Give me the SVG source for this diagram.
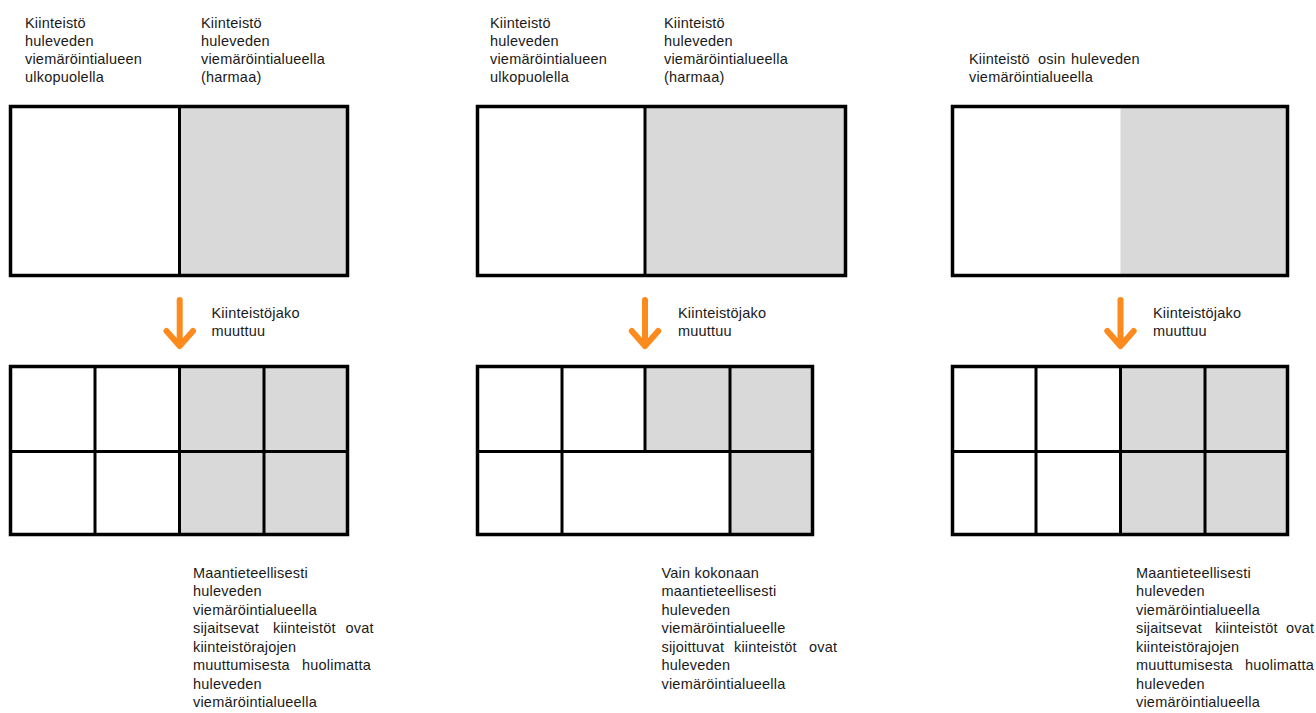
<svg xmlns="http://www.w3.org/2000/svg" width="1316" height="713" viewBox="0 0 1316 713">
<style>
text{font-family:"Liberation Sans",Arial,sans-serif;font-size:14.5px;letter-spacing:0.2px;fill:#1a1a1a}
.g{fill:#d9d9d9}
.ln{stroke:#000;stroke-width:3;fill:none}
.ob{stroke:#000;stroke-width:3.5;fill:none}
.arr{stroke:#fd8a1c;stroke-width:6;fill:none;stroke-linecap:round;stroke-linejoin:round}
</style>
<rect width="1316" height="713" fill="#fff"/>

<g id="panel1-top">
<text x="25" y="28">Kiinteistö</text>
<text x="25" y="46">huleveden</text>
<text x="25" y="64">viemäröintialueen</text>
<text x="25" y="82">ulkopuolella</text>
<text x="201" y="28">Kiinteistö</text>
<text x="201" y="46">huleveden</text>
<text x="201" y="64">viemäröintialueella</text>
<text x="201" y="82">(harmaa)</text>
<rect class="g" x="179.5" y="105" width="169.5" height="172"/>
<line class="ln" x1="179.5" y1="105" x2="179.5" y2="277"/>
<rect class="ob" x="10.5" y="106.5" width="337" height="169"/>
</g>

<g id="panel1-bottom">
<rect class="g" x="179.5" y="365" width="169.5" height="171"/>
<line class="ln" x1="95" y1="365" x2="95" y2="536"/>
<line class="ln" x1="179.5" y1="365" x2="179.5" y2="536"/>
<line class="ln" x1="264" y1="365" x2="264" y2="536"/>
<line class="ln" x1="9" y1="451.5" x2="349" y2="451.5"/>
<rect class="ob" x="10.5" y="366.5" width="337" height="168"/>
<text x="193" y="577.5">Maantieteellisesti</text>
<text x="193" y="596">huleveden</text>
<text x="193" y="614.5">viemäröintialueella</text>
<text y="633"><tspan x="193">sijaitsevat</tspan><tspan x="273">kiinteistöt</tspan><tspan x="345.5">ovat</tspan></text>
<text x="193" y="651.5">kiinteistörajojen</text>
<text y="670"><tspan x="193">muuttumisesta</tspan><tspan x="302">huolimatta</tspan></text>
<text x="193" y="688.5">huleveden</text>
<text x="193" y="707">viemäröintialueella</text>
</g>

<g id="panel2-top">
<text x="490" y="28">Kiinteistö</text>
<text x="490" y="46">huleveden</text>
<text x="490" y="64">viemäröintialueen</text>
<text x="490" y="82">ulkopuolella</text>
<text x="664" y="28">Kiinteistö</text>
<text x="664" y="46">huleveden</text>
<text x="664" y="64">viemäröintialueella</text>
<text x="664" y="82">(harmaa)</text>
<rect class="g" x="645" y="105" width="202" height="172"/>
<line class="ln" x1="645" y1="105" x2="645" y2="277"/>
<rect class="ob" x="477.5" y="106.5" width="368" height="169"/>
</g>

<g id="panel2-bottom">
<rect class="g" x="645" y="365" width="169" height="86.5"/>
<rect class="g" x="730" y="451.5" width="84" height="84.5"/>
<line class="ln" x1="562" y1="365" x2="562" y2="536"/>
<line class="ln" x1="645" y1="365" x2="645" y2="451.5"/>
<line class="ln" x1="730" y1="365" x2="730" y2="536"/>
<line class="ln" x1="476" y1="451.5" x2="814" y2="451.5"/>
<rect class="ob" x="477.5" y="366.5" width="335" height="168"/>
<text x="661.5" y="577.5">Vain kokonaan</text>
<text x="661.5" y="596">maantieteellisesti</text>
<text x="661.5" y="614.5">huleveden</text>
<text x="661.5" y="633">viemäröintialueelle</text>
<text y="651.5"><tspan x="661.5">sijoittuvat</tspan><tspan x="734">kiinteistöt</tspan><tspan x="809">ovat</tspan></text>
<text x="661.5" y="670">huleveden</text>
<text x="661.5" y="688.5">viemäröintialueella</text>
</g>

<g id="panel3-top">
<text y="64"><tspan x="969">Kiinteistö</tspan><tspan x="1038">osin</tspan><tspan x="1071">huleveden</tspan></text>
<text x="969" y="82">viemäröintialueella</text>
<rect class="g" x="1120.5" y="105" width="168.5" height="172"/>
<rect class="ob" x="952.5" y="106.5" width="335" height="169"/>
</g>

<g id="panel3-bottom">
<rect class="g" x="1120.5" y="365" width="168.5" height="171"/>
<line class="ln" x1="1036" y1="365" x2="1036" y2="536"/>
<line class="ln" x1="1120.5" y1="365" x2="1120.5" y2="536"/>
<line class="ln" x1="1205" y1="365" x2="1205" y2="536"/>
<line class="ln" x1="951" y1="451.5" x2="1289" y2="451.5"/>
<rect class="ob" x="952.5" y="366.5" width="335" height="168"/>
<text x="1136" y="577.5">Maantieteellisesti</text>
<text x="1136" y="596">huleveden</text>
<text x="1136" y="614.5">viemäröintialueella</text>
<text y="633"><tspan x="1136">sijaitsevat</tspan><tspan x="1215">kiinteistöt</tspan><tspan x="1286">ovat</tspan></text>
<text x="1136" y="651.5">kiinteistörajojen</text>
<text y="670"><tspan x="1136">muuttumisesta</tspan><tspan x="1245">huolimatta</tspan></text>
<text x="1136" y="688.5">huleveden</text>
<text x="1136" y="707">viemäröintialueella</text>
</g>

<g id="connectors">
<path class="arr" d="M179.7 300 V346 M166.5 331 L179.7 346 L193 331"/>
<text x="211.5" y="318">Kiinteistöjako</text>
<text x="211.5" y="336">muuttuu</text>
<path class="arr" d="M645 300 V346 M631.8 331 L645 346 L658.2 331"/>
<text x="678" y="318">Kiinteistöjako</text>
<text x="678" y="336">muuttuu</text>
<path class="arr" d="M1120.5 300 V346 M1107.3 331 L1120.5 346 L1133.7 331"/>
<text x="1153" y="318">Kiinteistöjako</text>
<text x="1153" y="336">muuttuu</text>
</g>
</svg>
